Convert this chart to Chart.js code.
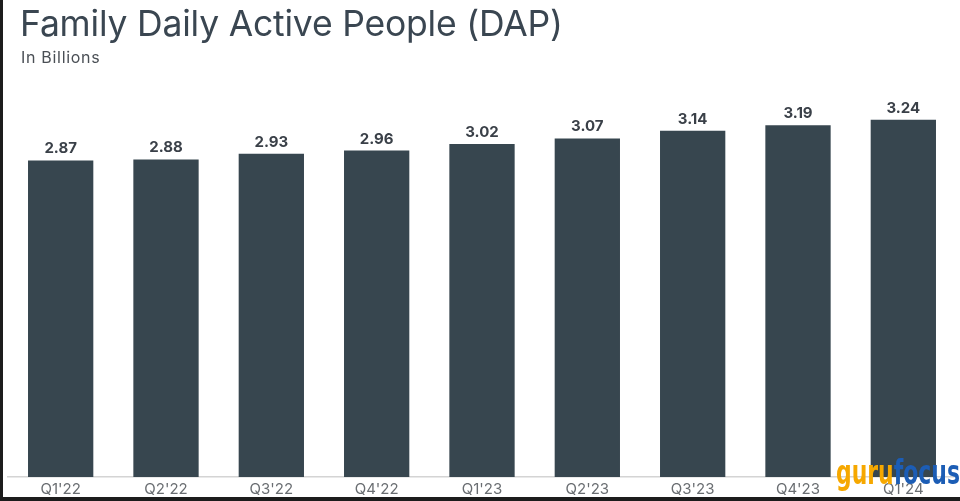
<!DOCTYPE html>
<html>
<head>
<meta charset="utf-8">
<script src="https://cdn.jsdelivr.net/npm/chart.js@4/dist/chart.umd.min.js"></script>
<style>
  html, body { margin: 0; padding: 0; background: #1c1c1c; }
  #frame { position: absolute; left: 3px; top: 0; width: 957px; height: 497px; background: #ffffff; overflow: hidden; }
  #wrap { position: absolute; left: -3px; top: 0; width: 960px; height: 501px; }
  #title { position: absolute; left: 17px; top: 2px; font-family: Inter, "Open Sans", sans-serif; font-size: 35.5px; color: #3a4651; letter-spacing: -0.2px; white-space: nowrap; }
  #subtitle { position: absolute; left: 18px; top: 47px; font-family: Inter, "Open Sans", sans-serif; font-size: 16px; letter-spacing: 0.7px; color: #4a4f55; white-space: nowrap; }
  #wm { position: absolute; left: 833px; top: 455px; font-family: "DejaVu Sans", sans-serif; font-weight: bold; font-size: 34px; white-space: nowrap; line-height: 1; transform-origin: left top; display: inline-block; }
  #wm .g { color: #f6a800; }
  #wm .f { color: #1c5db5; }
</style>
</head>
<body>
<div id="frame">
  <div id="wrap"><canvas id="c" width="960" height="501"></canvas></div>
  <div id="title">Family Daily Active People (DAP)</div>
  <div id="subtitle">In Billions</div>
  <div id="wm"><span class="g">guru</span><span class="f">focus</span></div>
</div>
<script>
const categories = ["Q1'22", "Q2'22", "Q3'22", "Q4'22", "Q1'23", "Q2'23", "Q3'23", "Q4'23", "Q1'24"];
const dapValues = [2.87, 2.88, 2.93, 2.96, 3.02, 3.07, 3.14, 3.19, 3.24];
const valueLabels = ["2.87", "2.88", "2.93", "2.96", "3.02", "3.07", "3.14", "3.19", "3.24"];

const wm = document.getElementById('wm');
wm.style.transform = 'scaleX(' + (124 / wm.getBoundingClientRect().width) + ')';

const labelPlugin = {
  id: 'valueLabels',
  afterDatasetsDraw(chart) {
    const ctx = chart.ctx;
    const meta = chart.getDatasetMeta(0);
    ctx.save();
    ctx.font = 'bold 15px Inter, "Open Sans", sans-serif';
    ctx.fillStyle = '#3a4048';
    ctx.textAlign = 'center';
    ctx.textBaseline = 'bottom';
    meta.data.forEach((bar, i) => {
      ctx.fillText(valueLabels[i], bar.x, bar.y - 4);
    });
    ctx.restore();
  }
};

new Chart(document.getElementById('c'), {
  type: 'bar',
  data: {
    labels: categories,
    datasets: [{
      data: dapValues,
      backgroundColor: '#37464f',
      borderWidth: 0,
      categoryPercentage: 1.0,
      barPercentage: 0.62
    }]
  },
  options: {
    responsive: false,
    animation: false,
    devicePixelRatio: 1,
    layout: { padding: { left: 8, right: 4, top: 91, bottom: 0 } },
    plugins: { legend: { display: false }, tooltip: { enabled: false } },
    scales: {
      x: {
        grid: { display: false, drawTicks: false },
        border: { display: true, color: '#d4d4d4', width: 1.5 },
        ticks: { color: '#6a6e72', font: { family: 'Inter, "Open Sans", sans-serif', size: 15 }, padding: 3 }
      },
      y: { display: false, min: 0, max: 3.5 }
    }
  },
  plugins: [labelPlugin]
});
</script>
</body>
</html>
